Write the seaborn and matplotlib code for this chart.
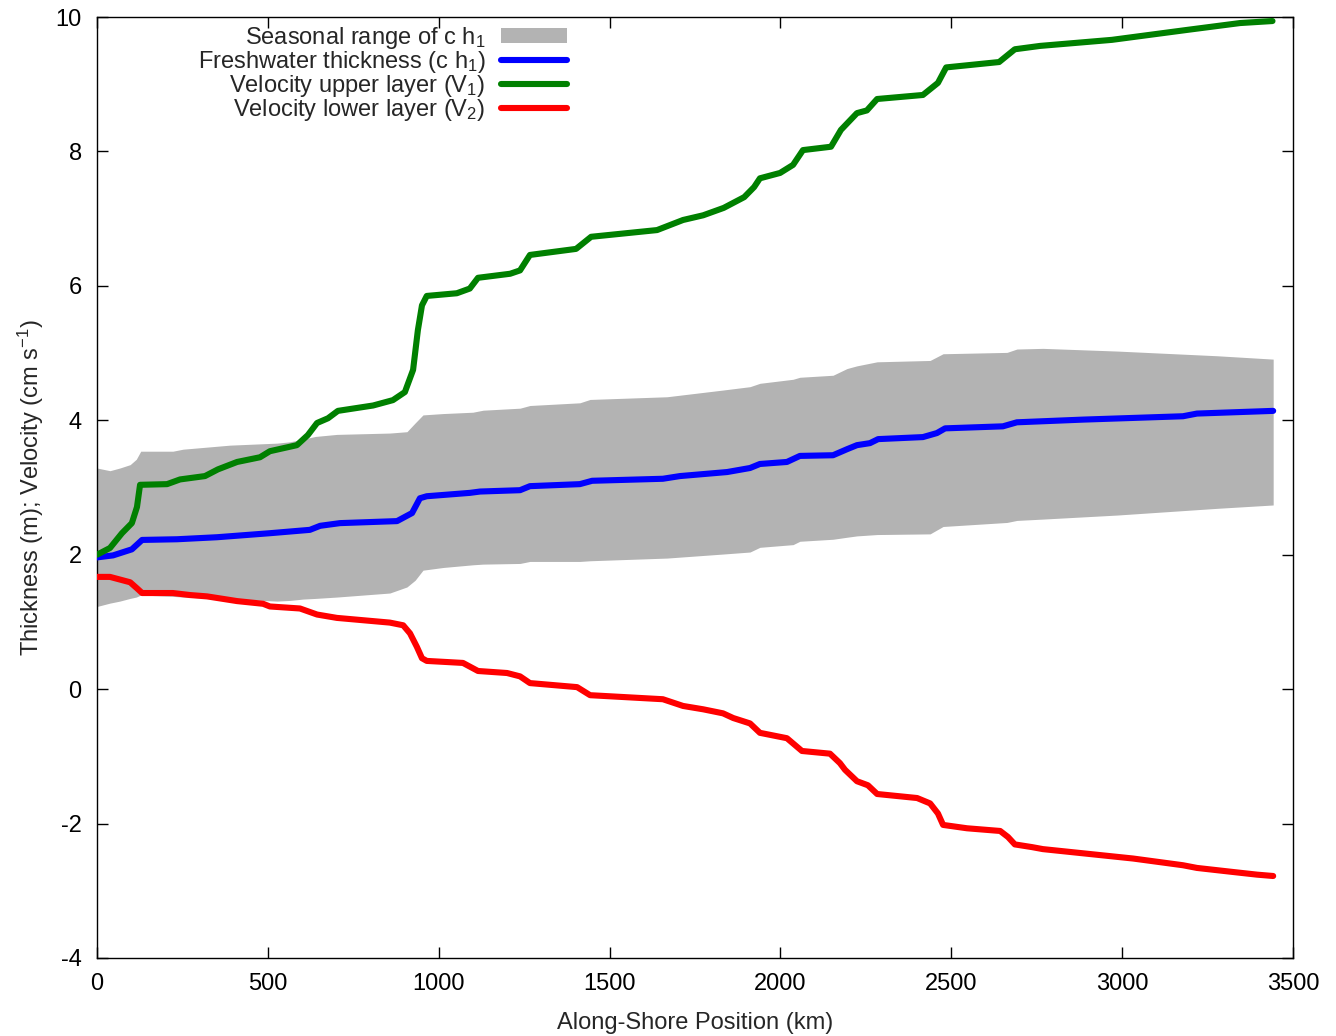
import matplotlib
matplotlib.use("Agg")
import matplotlib.pyplot as plt
import seaborn as sns
from matplotlib.patches import Patch
from matplotlib.lines import Line2D

# ---------------- data ----------------
band_x = [0, 38, 67, 97, 115, 128, 222, 252, 389, 527, 565, 603, 640, 702, 857, 907,
          931, 954, 1013, 1100, 1130, 1238, 1267, 1413, 1443, 1668, 1832, 1911, 1940,
          2037, 2057, 2154, 2195, 2224, 2283, 2438, 2476, 2663, 2692, 2768, 2985,
          3278, 3442]
band_upper = [3.29, 3.25, 3.29, 3.34, 3.42, 3.54, 3.54, 3.57, 3.63, 3.66, 3.68, 3.72,
              3.76, 3.79, 3.81, 3.83, 3.96, 4.08, 4.10, 4.12, 4.15, 4.18, 4.22, 4.26,
              4.31, 4.35, 4.45, 4.50, 4.55, 4.61, 4.64, 4.67, 4.77, 4.81, 4.87, 4.89,
              4.99, 5.01, 5.06, 5.07, 5.03, 4.96, 4.91]
band_lower = [1.23, 1.28, 1.31, 1.35, 1.37, 1.40, 1.38, 1.37, 1.34, 1.31, 1.32, 1.34,
              1.35, 1.37, 1.43, 1.52, 1.62, 1.77, 1.81, 1.85, 1.86, 1.87, 1.90, 1.90,
              1.91, 1.95, 2.01, 2.04, 2.11, 2.15, 2.20, 2.23, 2.26, 2.28, 2.30, 2.31,
              2.42, 2.48, 2.51, 2.53, 2.59, 2.69, 2.74]

h1_x = [0, 47, 102, 132, 234, 351, 506, 623, 653, 711, 878, 922, 945, 965, 1091, 1121,
        1238, 1267, 1413, 1449, 1656, 1706, 1844, 1911, 1940, 2019, 2057, 2154, 2195,
        2224, 2262, 2286, 2417, 2458, 2482, 2651, 2692, 2885, 3178, 3219, 3442]
h1_y = [1.96, 1.99, 2.08, 2.22, 2.23, 2.26, 2.32, 2.37, 2.43, 2.47, 2.50, 2.62, 2.84,
        2.87, 2.92, 2.94, 2.96, 3.02, 3.05, 3.10, 3.13, 3.17, 3.23, 3.29, 3.35, 3.38,
        3.47, 3.48, 3.57, 3.63, 3.66, 3.72, 3.75, 3.81, 3.88, 3.91, 3.97, 4.01, 4.06,
        4.10, 4.14]

v1_x = [0, 38, 73, 102, 117, 126, 205, 243, 316, 354, 410, 477, 506, 585, 617, 644,
        676, 705, 808, 866, 901, 925, 939, 951, 965, 1053, 1091, 1115, 1209, 1238,
        1267, 1402, 1446, 1639, 1715, 1774, 1834, 1894, 1923, 1940, 1999, 2037, 2066,
        2148, 2177, 2224, 2253, 2283, 2417, 2461, 2485, 2640, 2686, 2760, 2970, 3193,
        3345, 3440]
v1_y = [2.00, 2.10, 2.32, 2.47, 2.71, 3.04, 3.05, 3.12, 3.17, 3.27, 3.38, 3.45, 3.54,
        3.63, 3.78, 3.96, 4.03, 4.14, 4.22, 4.30, 4.42, 4.75, 5.34, 5.71, 5.85, 5.89,
        5.96, 6.12, 6.18, 6.23, 6.46, 6.55, 6.73, 6.83, 6.98, 7.05, 7.16, 7.32, 7.47,
        7.60, 7.68, 7.80, 8.02, 8.07, 8.32, 8.57, 8.61, 8.78, 8.84, 9.02, 9.25, 9.33,
        9.52, 9.57, 9.66, 9.81, 9.91, 9.94]

v2_x = [0, 38, 97, 117, 132, 222, 272, 322, 410, 486, 506, 594, 644, 702, 857, 896,
        916, 936, 951, 965, 1071, 1115, 1200, 1238, 1267, 1405, 1443, 1656, 1715,
        1774, 1832, 1862, 1911, 1940, 2019, 2063, 2145, 2174, 2189, 2224, 2256, 2283,
        2400, 2438, 2461, 2476, 2546, 2643, 2666, 2686, 2736, 2768, 3032, 3178, 3219,
        3324, 3395, 3442]
v2_y = [1.67, 1.67, 1.59, 1.50, 1.43, 1.43, 1.40, 1.38, 1.31, 1.27, 1.23, 1.20, 1.11,
        1.06, 0.99, 0.95, 0.83, 0.63, 0.46, 0.42, 0.39, 0.27, 0.24, 0.19, 0.09, 0.03,
        -0.09, -0.15, -0.25, -0.30, -0.36, -0.43, -0.51, -0.65, -0.73, -0.92, -0.96,
        -1.10, -1.20, -1.37, -1.43, -1.56, -1.62, -1.70, -1.85, -2.02, -2.07, -2.11,
        -2.20, -2.31, -2.35, -2.38, -2.52, -2.62, -2.66, -2.72, -2.76, -2.78]

x_ticks = [0, 500, 1000, 1500, 2000, 2500, 3000, 3500]
y_ticks = [-4, -2, 0, 2, 4, 6, 8, 10]

labels = ["Seasonal range of c h$_1$", "Freshwater thickness (c h$_1$)",
          "Velocity upper layer (V$_1$)", "Velocity lower layer (V$_2$)"]
band_color = "#b3b3b3"
line_colors = ["#0000ff", "#008000", "#ff0000"]

# ---------------- style ----------------
sns.set_theme(style="ticks")
plt.rcParams["font.family"] = ["Liberation Sans", "DejaVu Sans"]
plt.rcParams["mathtext.fontset"] = "custom"
plt.rcParams["mathtext.rm"] = "Liberation Sans"
plt.rcParams["mathtext.it"] = "Liberation Sans:italic"
plt.rcParams["mathtext.default"] = "regular"

FS = 17
fig = plt.figure(figsize=(13.36, 10.36), dpi=100)
ax = fig.add_axes([97 / 1336, 1 - 958 / 1036, (1293 - 97) / 1336, (958 - 17) / 1036])

ax.fill_between(band_x, band_lower, band_upper, color=band_color, lw=0, zorder=1)
lw = 4.4
sns.lineplot(x=h1_x, y=h1_y, color=line_colors[0], lw=lw, ax=ax, zorder=3)
sns.lineplot(x=v1_x, y=v1_y, color=line_colors[1], lw=lw, ax=ax, zorder=4)
sns.lineplot(x=v2_x, y=v2_y, color=line_colors[2], lw=lw, ax=ax, zorder=5)

ax.set_xlim(0, 3500)
ax.set_ylim(-4, 10)
ax.set_xticks(x_ticks)
ax.set_yticks(y_ticks)
ax.set_xticklabels([str(t) for t in x_ticks])
ax.set_yticklabels([str(t) for t in y_ticks])
ax.tick_params(direction="in", length=8, width=1, top=True, right=True,
               labelsize=FS, pad=11, colors="black")
for s in ax.spines.values():
    s.set_linewidth(1)
    s.set_color("black")

ax.set_xlabel("Along-Shore Position (km)", fontsize=FS, labelpad=12)
ax.set_ylabel("Thickness (m); Velocity (cm s$^{-1}$)", fontsize=FS, labelpad=7)

handles = [Patch(facecolor=band_color, edgecolor="none"),
           Line2D([], [], color=line_colors[0], lw=lw),
           Line2D([], [], color=line_colors[1], lw=lw),
           Line2D([], [], color=line_colors[2], lw=lw)]
ax.legend(handles, labels, loc="upper right", bbox_to_anchor=(0.403, 1.004),
          frameon=False, markerfirst=False, fontsize=FS, handlelength=2.8,
          handletextpad=0.65, labelspacing=-0.09, borderpad=0.0, handleheight=0.6)

fig.savefig("out.png", dpi=100, facecolor="white")
